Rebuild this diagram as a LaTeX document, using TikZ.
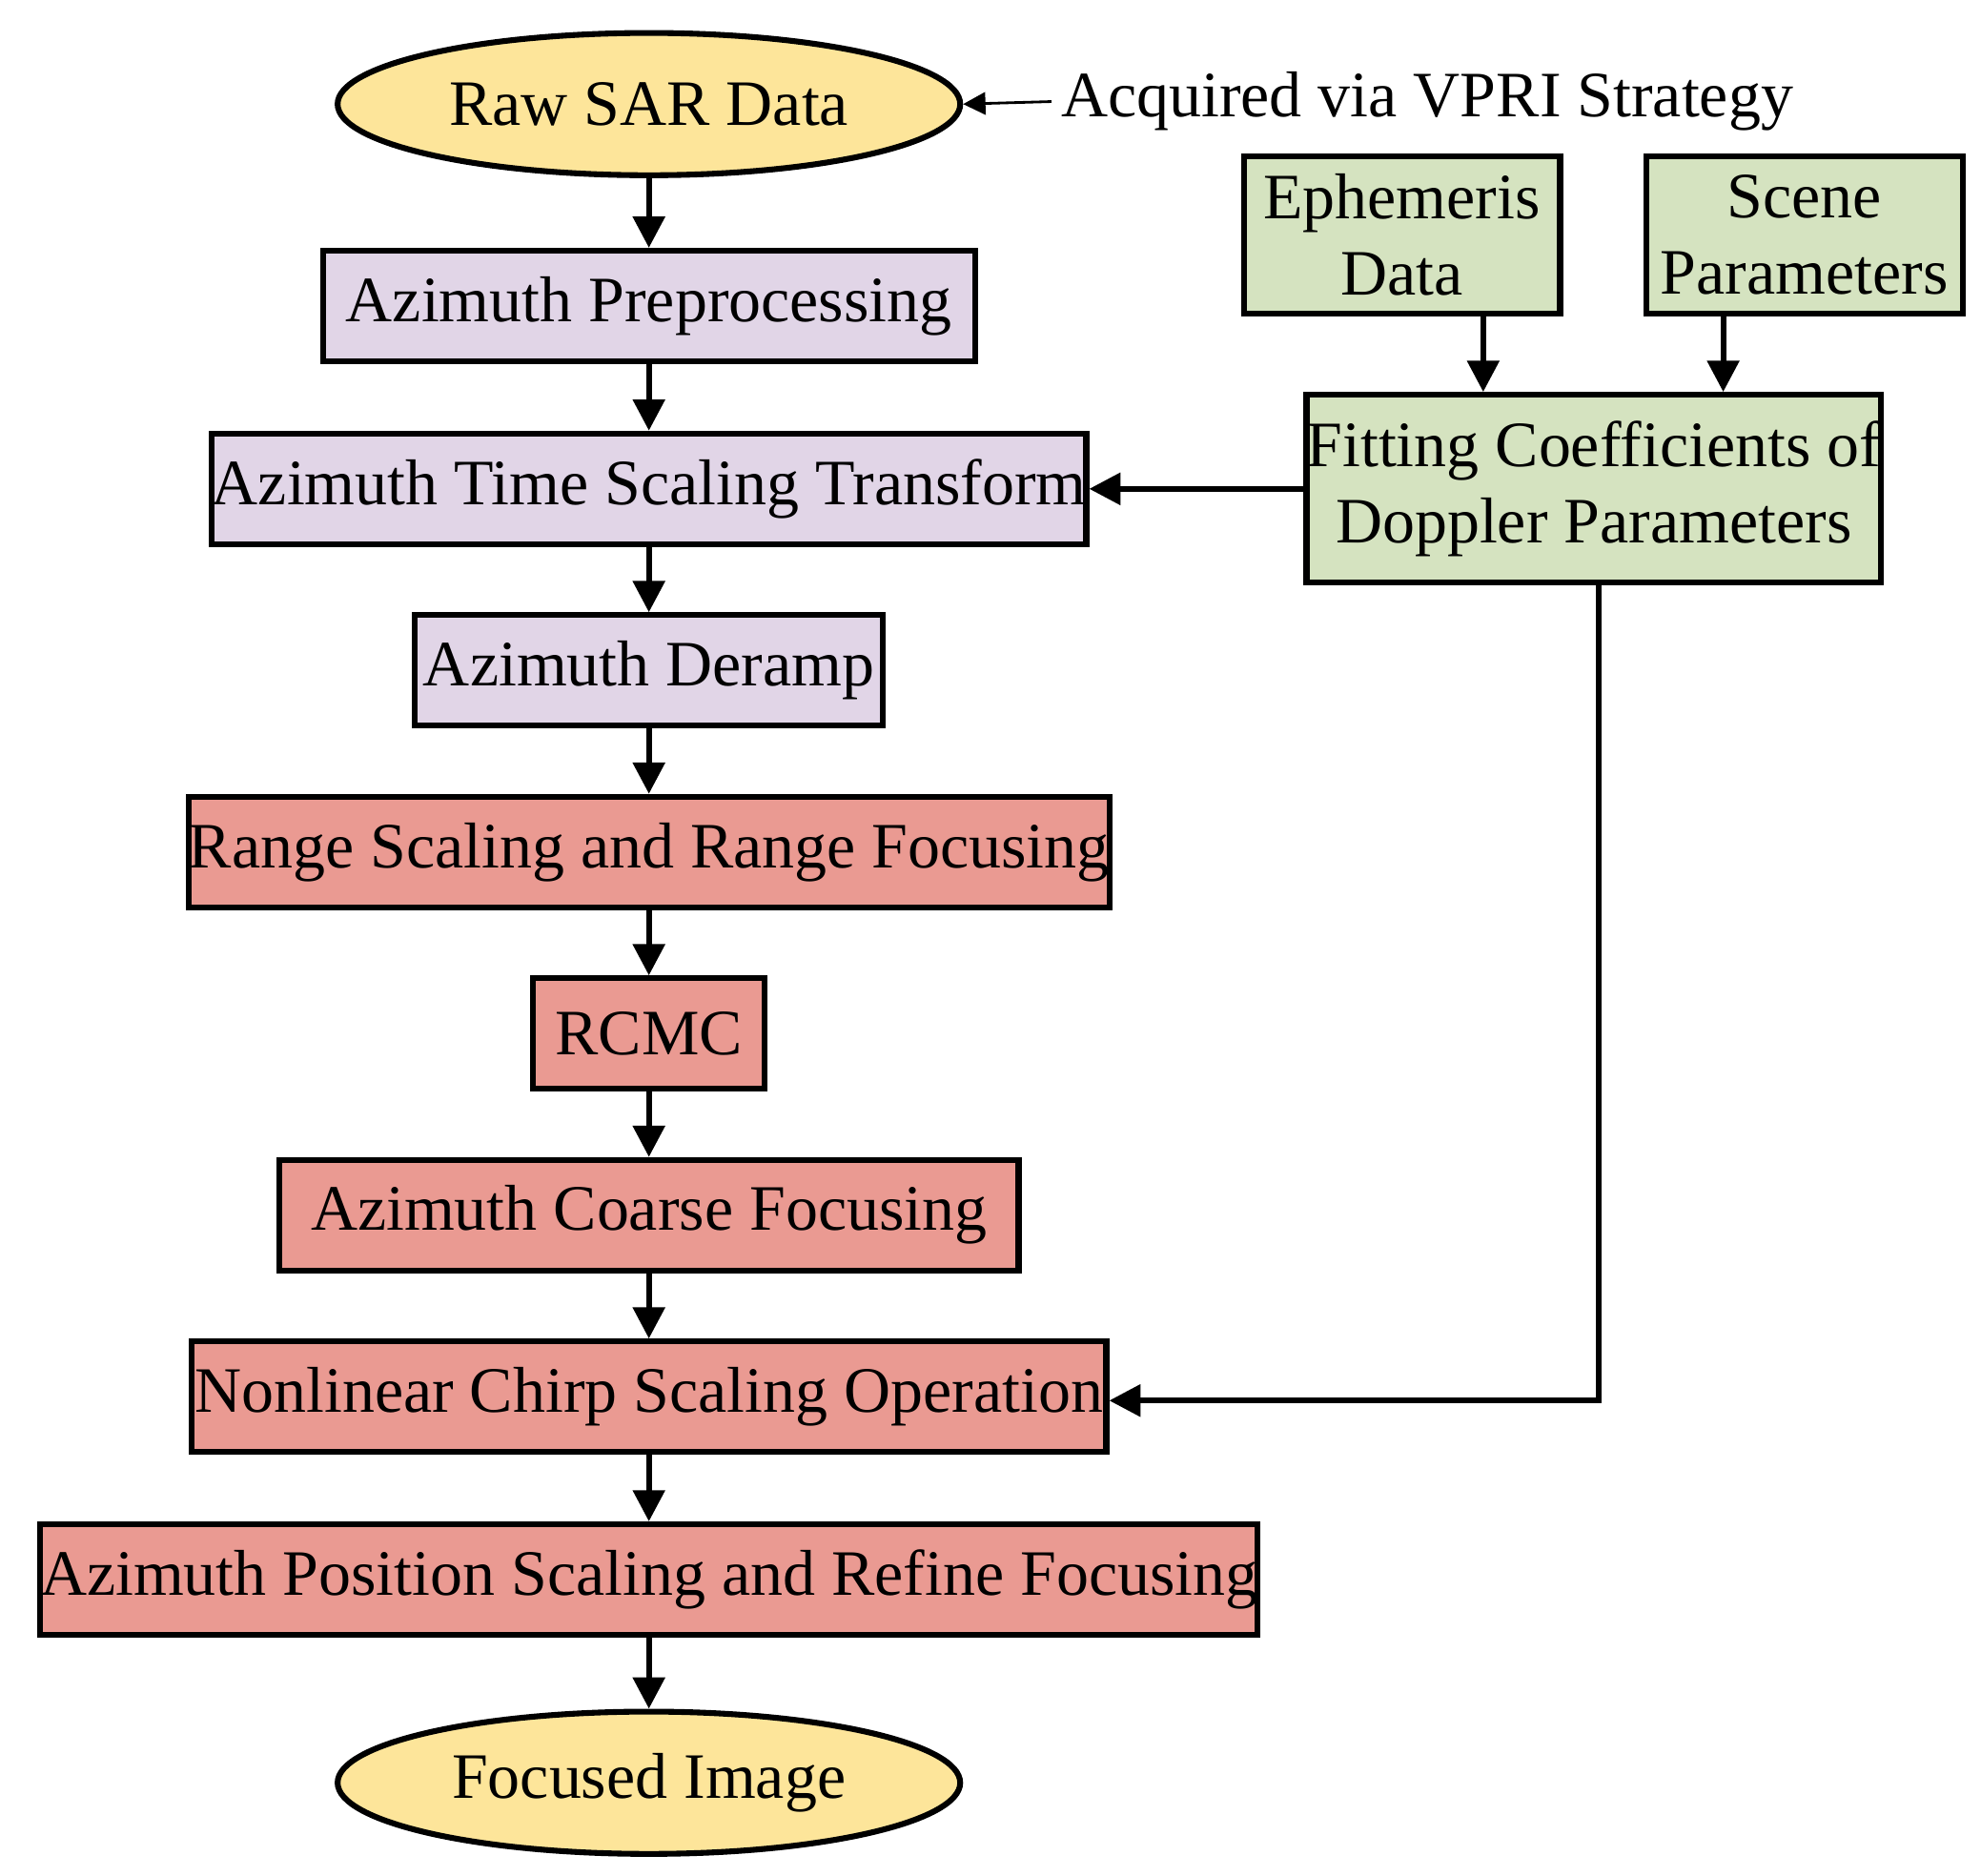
\documentclass[tikz,border=0pt]{standalone}
\usepackage{fontspec}
\setmainfont{Liberation Serif}
\usetikzlibrary{shapes.geometric,arrows.meta}
\begin{document}
\begin{tikzpicture}[x=0.01cm,y=-0.01cm,
  every node/.style={font=\fontsize{14.5}{17}\selectfont},
  box/.style={draw,line width=1.3pt,minimum height=0.87cm,inner sep=0pt},
  lav/.style={box,fill=lav},red/.style={box,fill=redc},grn/.style={box,fill=grn,align=center},
  ell/.style={ellipse,draw,line width=1.3pt,fill=yel,minimum width=4.9cm,minimum height=1.12cm,inner sep=0pt},
  arr/.style={line width=1.3pt,-{Triangle[length=7pt,width=7pt]}}]
\definecolor{lav}{HTML}{E1D5E7}
\definecolor{redc}{HTML}{EA9A92}
\definecolor{grn}{HTML}{D5E3C0}
\definecolor{yel}{HTML}{FDE59A}
\useasboundingbox (0,0) rectangle (1560,1477);
\node[ell] (raw) at (511,82) {Raw SAR Data};
\node[lav,minimum width=5.13cm] (pre) at (511,241) {Azimuth Preprocessing};
\node[lav,minimum width=6.82cm] (ts) at (511,385) {Azimuth Time Scaling Transform};
\node[lav,minimum width=3.68cm] (der) at (511,528) {Azimuth Deramp};
\node[red,minimum width=7.2cm] (rs) at (511,671) {Range Scaling and Range Focusing};
\node[red,minimum width=1.82cm] (rc) at (511,814) {RCMC};
\node[red,minimum width=5.82cm] (co) at (511,957) {Azimuth Coarse Focusing};
\node[red,minimum width=7.2cm] (nl) at (511,1100) {Nonlinear Chirp Scaling Operation};
\node[red,minimum width=9.36cm] (ap) at (511,1244) {Azimuth Position Scaling and Refine Focusing};
\node[ell] (fi) at (511,1404) {Focused Image};
\node[grn,minimum width=2.49cm,minimum height=1.24cm] (eph) at (1104,185) {Ephemeris\\Data};
\node[grn,minimum width=2.49cm,minimum height=1.24cm] (sc) at (1421,185) {Scene\\Parameters};
\node[grn,minimum width=4.52cm,minimum height=1.48cm] (fit) at (1255,385) {Fitting Coefficients of\\Doppler Parameters};
\node[anchor=west,inner sep=0pt] (acq) at (835,80) {Acquired via VPRI Strategy};
\draw[line width=0.6pt,-{Triangle[length=5pt,width=5pt]}] (acq.west) ++(-7,0) -- (raw.east);
\foreach \a/\b in {raw/pre,pre/ts,ts/der,der/rs,rs/rc,rc/co,co/nl,nl/ap,ap/fi}
  \draw[arr] (\a) -- (\b);
\draw[arr] (eph.south -| 1168,0) -- (fit.north -| 1168,0);
\draw[arr] (sc.south -| 1357,0) -- (fit.north -| 1357,0);
\draw[arr] (fit.west) -- (ts.east);
\draw[arr] (fit.south -| 1259,0) -- (1259,1103) -- (nl.east |- 0,1103);
\end{tikzpicture}
\end{document}
